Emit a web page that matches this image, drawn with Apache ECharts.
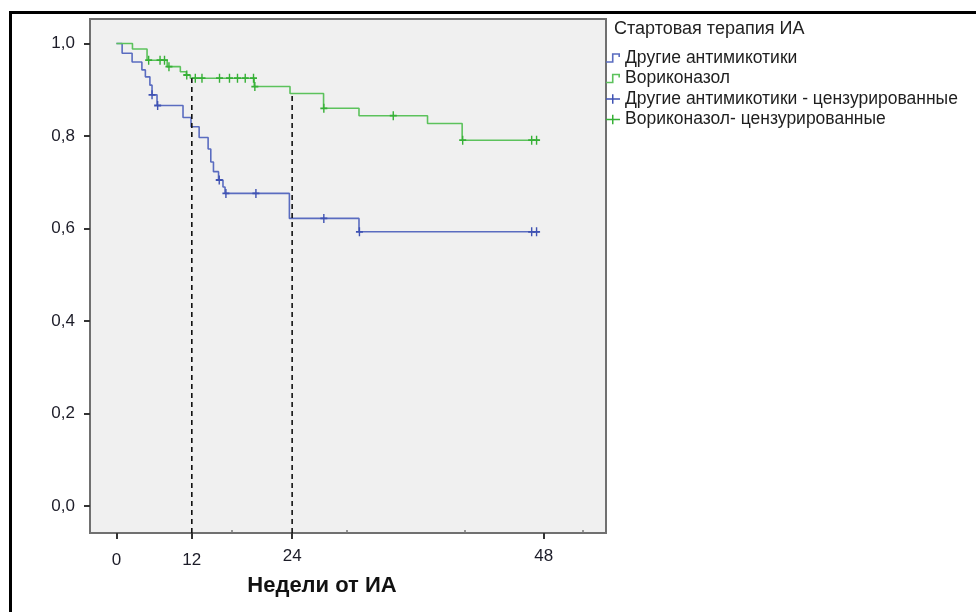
<!DOCTYPE html>
<html>
<head>
<meta charset="utf-8">
<script src="https://cdn.jsdelivr.net/npm/echarts@6/dist/echarts.min.js"></script>
<style>
  html, body { margin: 0; padding: 0; background: #fff; }
  #chart { width: 976px; height: 612px; }
</style>
</head>
<body>
<div id="chart"></div>
<script>
// недели (шкала оси) и доля выживших
const blueWeeks = [0, 0.64, 1.76, 2.86, 3.25, 3.76, 4.0, 4.56, 7.48, 8.38, 9.29, 10.3, 10.6, 10.9, 11.47, 11.97, 12.2, 19.43, 27.25, 47.5];
const blueSurv = [1.0, 0.979, 0.960, 0.943, 0.928, 0.910, 0.889, 0.866, 0.840, 0.820, 0.797, 0.772, 0.744, 0.723, 0.705, 0.690, 0.676, 0.622, 0.593, 0.593];
const blueCensWeeks = [4.0, 4.63, 11.55, 12.3, 15.67, 23.3, 27.3, 46.65, 47.2];
const blueCensSurv = [0.889, 0.866, 0.705, 0.676, 0.676, 0.622, 0.593, 0.593, 0.593];

const greenWeeks = [0, 1.8, 3.44, 5.7, 7.18, 7.85, 8.3, 15.48, 19.5, 23.27, 27.25, 34.95, 38.84, 47.5];
const greenSurv = [1.0, 0.988, 0.964, 0.950, 0.939, 0.932, 0.925, 0.907, 0.892, 0.860, 0.844, 0.827, 0.791, 0.791];
const greenCensWeeks = [3.62, 4.9, 5.4, 5.9, 7.9, 8.86, 9.61, 11.58, 12.7, 13.6, 14.47, 15.4, 15.55, 23.3, 31.1, 38.9, 46.65, 47.2];
const greenCensSurv = [0.964, 0.964, 0.964, 0.950, 0.932, 0.925, 0.925, 0.925, 0.925, 0.925, 0.925, 0.925, 0.907, 0.860, 0.844, 0.791, 0.791, 0.791];

// пунктирные линии "12" и "24"
const dropWeeks = [8.47, 19.74];
const dropTop = [0.925, 0.892];

const xTickPos = [0, 8.47, 19.74, 48];
const xTickLabels = ['0', '12', '24', '48'];
const xMinorTicks = [13.0, 25.9, 39.1, 52.4];
const yTicks = [0, 0.2, 0.4, 0.6, 0.8, 1.0];

const names = ['Другие антимикотики', 'Вориконазол', 'Другие антимикотики - цензурированные', 'Вориконазол- цензурированные'];

const X_MIN = -2.97, X_MAX = 55.0, Y_MIN = -0.058, Y_MAX = 1.053;

const blue = '#5a6cc0', blueDark = '#3f52b3';
const green = '#5cc25c', greenDark = '#36b036';
const stepIcon = 'path://M0,8.5H5.5V1H13V4.5H11.5V2.5H7V10H0Z';
const plusIcon = 'path://M0,4H6V0H7.5V4H14V5.5H7.5V9.5H6V5.5H0Z';
const plusSymbol = 'path://M3.2,0H4.8V3.2H8V4.8H4.8V8H3.2V4.8H0V3.2H3.2Z';

const zip = (a, b) => a.map((v, i) => [v, b[i]]);

const font = 'Arial, "Liberation Sans", sans-serif';

const chart = echarts.init(document.getElementById('chart'));

const dropSeries = dropWeeks.map((w, i) => ({
  type: 'line',
  data: [[w, Y_MIN], [w, dropTop[i]]],
  showSymbol: false,
  silent: true,
  z: 5,
  lineStyle: { color: '#111', width: 1.6, type: [5, 4] }
}));

const option = {
  animation: false,
  backgroundColor: '#fff',
  textStyle: { fontFamily: font },
  title: {
    text: 'Стартовая терапия ИА',
    left: 609,
    top: 15,
    textStyle: { fontSize: 18, fontWeight: 'normal', color: '#222', fontFamily: font }
  },
  legend: {
    orient: 'vertical',
    left: 606,
    top: 49,
    padding: 0,
    itemWidth: 14,
    itemHeight: 10,
    itemGap: 2.5,
    textStyle: { fontSize: 17.5, color: '#1e1e1e', lineHeight: 17, fontFamily: font },
    data: [
      { name: names[0], icon: stepIcon },
      { name: names[1], icon: stepIcon },
      { name: names[2], icon: plusIcon },
      { name: names[3], icon: plusIcon }
    ]
  },
  grid: {
    left: 90, right: 370, top: 19, bottom: 79,
    show: true,
    backgroundColor: '#f0f0f0',
    borderColor: '#707070',
    borderWidth: 2
  },
  xAxis: [
    {
      type: 'value',
      min: X_MIN,
      max: X_MAX,
      axisLine: { show: false, onZero: false },
      splitLine: { show: false },
      axisTick: { customValues: xTickPos, length: 6, lineStyle: { color: '#333', width: 2 } },
      axisLabel: {
        customValues: xTickPos,
        margin: 15,
        fontSize: 17,
        color: '#1c1c28',
        formatter: (v) => {
          const i = xTickPos.indexOf(v);
          const t = i >= 0 ? xTickLabels[i] : '';
          return v > 15 ? '{hi|' + t + '}' : '{lo|' + t + '}';
        },
        rich: {
          hi: { fontSize: 17, color: '#1c1c28', padding: [0, 0, 0, 0] },
          lo: { fontSize: 17, color: '#1c1c28', padding: [4, 0, 0, 0] }
        }
      },
      name: 'Недели от ИА',
      nameLocation: 'middle',
      nameGap: 42,
      nameTextStyle: { fontSize: 22, fontWeight: 'bold', color: '#111', padding: [0, 52, 0, 0] }
    },
    {
      type: 'value',
      min: X_MIN,
      max: X_MAX,
      position: 'bottom',
      axisLine: { show: false, onZero: false },
      splitLine: { show: false },
      axisLabel: { show: false },
      axisTick: { customValues: xMinorTicks, inside: true, length: 3, lineStyle: { color: '#777', width: 1.5 } }
    }
  ],
  yAxis: {
    type: 'value',
    min: Y_MIN,
    max: Y_MAX,
    axisLine: { show: false, onZero: false },
    splitLine: { show: false },
    axisTick: { customValues: yTicks, length: 6, lineStyle: { color: '#333', width: 2 } },
    axisLabel: {
      customValues: yTicks,
      margin: 15,
      fontSize: 17,
      color: '#1c1c28',
      formatter: (v) => v.toFixed(1).replace('.', ',')
    }
  },
  series: [
    {
      name: names[0],
      type: 'line',
      step: 'end',
      data: zip(blueWeeks, blueSurv),
      showSymbol: false,
      color: blue,
      lineStyle: { color: blue, width: 1.6 },
      z: 3
    },
    {
      name: names[1],
      type: 'line',
      step: 'end',
      data: zip(greenWeeks, greenSurv),
      showSymbol: false,
      color: green,
      lineStyle: { color: green, width: 1.6 },
      z: 3
    },
    {
      name: names[2],
      type: 'scatter',
      data: zip(blueCensWeeks, blueCensSurv),
      symbol: plusSymbol,
      symbolSize: [7, 9],
      color: blueDark,
      itemStyle: { color: blueDark, opacity: 1 },
      z: 4
    },
    {
      name: names[3],
      type: 'scatter',
      data: zip(greenCensWeeks, greenCensSurv),
      symbol: plusSymbol,
      symbolSize: [7, 9],
      color: greenDark,
      itemStyle: { color: greenDark, opacity: 1 },
      z: 4
    },
    ...dropSeries
  ],
  graphic: [
    {
      type: 'rect',
      silent: true,
      z: 100,
      shape: { x: 10.5, y: 12.5, width: 1000, height: 700 },
      style: { fill: 'none', stroke: '#000', lineWidth: 3 }
    }
  ]
};

chart.setOption(option);
</script>
</body>
</html>
